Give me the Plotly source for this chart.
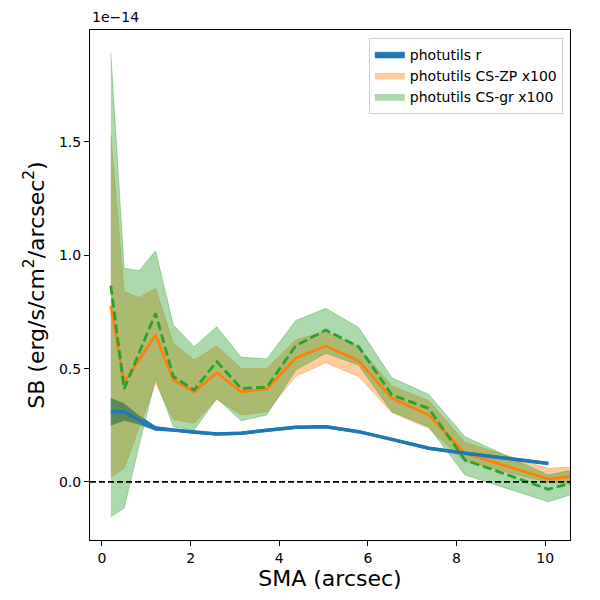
import plotly.graph_objs as go

# surface brightness profiles, values in units of 1e-14 erg/s/cm^2/arcsec^2
sma = [0.2, 0.5, 0.84, 1.21, 1.61, 2.08, 2.59, 3.14, 3.72, 4.37, 5.05, 5.79, 6.54, 7.37, 8.19, 10.07]
sma_cs = sma + [10.6]

r_sb = [0.310, 0.310, 0.272, 0.236, 0.229, 0.219, 0.212, 0.215, 0.229, 0.241, 0.244, 0.222, 0.188, 0.149, 0.127, 0.082]
r_lo = [0.250, 0.272, 0.255, 0.228, 0.224, 0.214, 0.207, 0.210, 0.224, 0.236, 0.239, 0.217, 0.183, 0.144, 0.122, 0.077]
r_hi = [0.369, 0.345, 0.292, 0.245, 0.234, 0.224, 0.217, 0.220, 0.234, 0.246, 0.249, 0.227, 0.193, 0.154, 0.132, 0.087]

zp_sb = [0.776, 0.440, 0.540, 0.648, 0.450, 0.398, 0.482, 0.398, 0.410, 0.546, 0.600, 0.534, 0.369, 0.296, 0.127, 0.013, 0.025]
zp_lo = [0.021, 0.060, 0.240, 0.435, 0.277, 0.259, 0.365, 0.296, 0.310, 0.465, 0.526, 0.465, 0.306, 0.237, 0.090, -0.002, -0.008]
zp_hi = [1.531, 0.840, 0.813, 0.854, 0.612, 0.538, 0.600, 0.501, 0.501, 0.626, 0.665, 0.597, 0.423, 0.359, 0.175, 0.060, 0.066]

gr_sb = [0.866, 0.410, 0.570, 0.744, 0.465, 0.406, 0.531, 0.413, 0.418, 0.601, 0.670, 0.597, 0.384, 0.325, 0.097, -0.032, -0.004]
gr_lo = [-0.153, -0.116, 0.162, 0.457, 0.244, 0.229, 0.369, 0.270, 0.296, 0.494, 0.568, 0.516, 0.310, 0.244, 0.031, -0.087, -0.055]
gr_hi = [1.894, 0.943, 0.932, 1.020, 0.692, 0.597, 0.685, 0.550, 0.543, 0.712, 0.766, 0.682, 0.460, 0.387, 0.200, 0.031, 0.052]

fig = go.Figure()


def band(x, lo, hi, fillcolor, linecolor, name):
    fig.add_trace(go.Scatter(x=x, y=lo, mode="lines", line=dict(width=0.8, color=linecolor),
                             showlegend=False, hoverinfo="skip"))
    fig.add_trace(go.Scatter(x=x, y=hi, mode="lines", fill="tonexty", fillcolor=fillcolor,
                             line=dict(width=0.8, color=linecolor), name=name))


band(sma, r_lo, r_hi, "#1f77b4", "#1f77b4", "photutils r")
band(sma_cs, zp_lo, zp_hi, "rgba(255,127,14,0.4)", "rgba(255,127,14,0.45)", "photutils CS-ZP x100")
band(sma_cs, gr_lo, gr_hi, "rgba(44,160,44,0.4)", "rgba(44,160,44,0.45)", "photutils CS-gr x100")

fig.add_trace(go.Scatter(x=sma_cs, y=zp_sb, mode="lines", line=dict(color="#ff7f0e", width=2.8),
                         showlegend=False))
fig.add_trace(go.Scatter(x=sma_cs, y=gr_sb, mode="lines", line=dict(color="#2ca02c", width=2.8, dash="9px,4px"),
                         showlegend=False))
fig.add_trace(go.Scatter(x=sma, y=r_sb, mode="lines", line=dict(color="#1f77b4", width=3.5),
                         showlegend=False))

fig.add_shape(type="line", xref="paper", x0=0, x1=1, yref="y", y0=0, y1=0,
              line=dict(color="black", width=1.8, dash="6px,3px"))

fig.add_annotation(text="1e\u221214", xref="paper", yref="paper", x=0, y=1.005,
                   xanchor="left", yanchor="bottom", showarrow=False, font=dict(size=14, color="black"))

axis_style = dict(showline=True, linecolor="black", linewidth=1, mirror=True, ticks="outside",
                  ticklen=5, tickcolor="black", showgrid=False, zeroline=False, automargin=False,
                  tickfont=dict(size=14, color="black"))

fig.update_xaxes(range=[-0.27, 10.56], tickvals=[0, 2, 4, 6, 8, 10],
                 title=dict(text="SMA (arcsec)", font=dict(size=22, color="black"), standoff=4), **axis_style)
fig.update_yaxes(range=[-0.256, 1.994], tickvals=[0, 0.5, 1.0, 1.5], tickformat=".1f",
                 title=dict(text="SB (erg/s/cm<sup>2</sup>/arcsec<sup>2</sup>)", font=dict(size=22, color="black"),
                            standoff=8), **axis_style)

# page body adds an 8px offset, so the margins are shifted to compensate
fig.update_layout(
    width=600, height=600,
    margin=dict(l=82, r=38, t=22, b=68),
    plot_bgcolor="white", paper_bgcolor="white",
    font=dict(family="DejaVu Sans", color="black"),
    legend=dict(x=0.985, y=0.985, xanchor="right", yanchor="top", bgcolor="white", traceorder="normal",
                bordercolor="#d0d0d0", borderwidth=1, font=dict(size=14), tracegroupgap=0),
)
fig.write_html("out.html")
